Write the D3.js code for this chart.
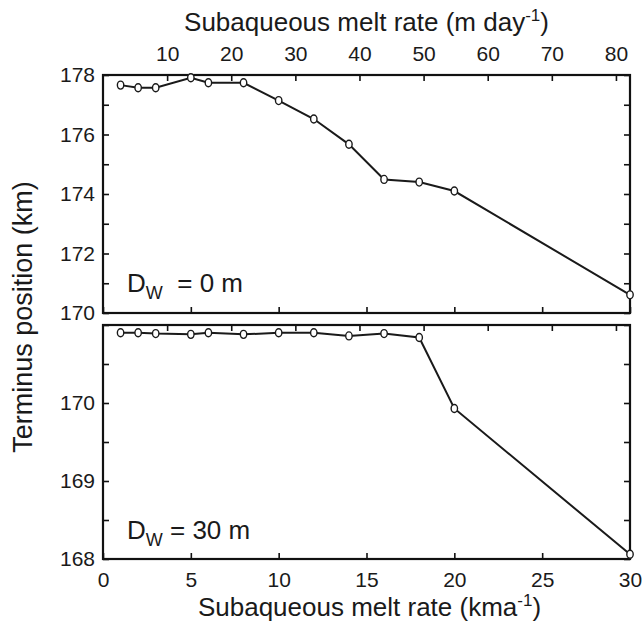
<!DOCTYPE html>
<html>
<head>
<meta charset="utf-8">
<script src="https://cdn.jsdelivr.net/npm/d3@7"></script>
<style>
  body { margin: 0; background: #fff; }
  svg { display: block; }
  text { font-family: "Liberation Sans", Arial, sans-serif; fill: #1a1a1a; }
</style>
</head>
<body>
<svg id="chart" width="643" height="631"></svg>
<script>
// ---- data ----
const meltRateTop = [1, 2, 3, 5, 6, 8, 10, 12, 14, 16, 18, 20, 30];          // km a^-1
const terminusTop = [177.66, 177.57, 177.57, 177.91, 177.74, 177.74, 177.14, 176.52, 175.67, 174.49, 174.40, 174.10, 170.61];
const meltRateBottom = [1, 2, 3, 5, 6, 8, 10, 12, 14, 16, 18, 20, 30];
const terminusBottom = [170.90, 170.90, 170.89, 170.88, 170.90, 170.88, 170.90, 170.90, 170.86, 170.89, 170.84, 169.93, 168.06];
const kmaTicks = [0, 5, 10, 15, 20, 25, 30];
const dayTicks = [10, 20, 30, 40, 50, 60, 70, 80];
const topYTicks = [170, 171, 172, 173, 174, 175, 176, 177, 178];
const topYLabels = [170, 172, 174, 176, 178];
const botYTicks = [168, 168.5, 169, 169.5, 170, 170.5, 171];
const botYLabels = [168, 169, 170];
const panelLabels = ["0 m", "30 m"];

// ---- layout ----
const L = 103, R = 630;
const topP = { y0: 75, y1: 313 };
const botP = { y0: 325, y1: 559 };
const svg = d3.select("#chart");

const xKma = d3.scaleLinear().domain([0, 30]).range([L, R]);
const xDay = d3.scaleLinear().domain([0, 30000 / 365]).range([L, R]);
const yTop = d3.scaleLinear().domain([170, 178]).range([topP.y1, topP.y0]);
const yBot = d3.scaleLinear().domain([168, 171]).range([botP.y1, botP.y0]);

const TICK = 6, FS = 21;

function styleAxis(g) {
  g.select(".domain").remove();
  g.selectAll(".tick line").attr("stroke", "#111").attr("stroke-width", 1.6);
  g.selectAll(".tick text").style("font-size", FS + "px").attr("fill", "#1a1a1a");
}

function panel(p, y, yTicks, yLabels, xs, ys, showTopLabels, showBottomLabels, label) {
  svg.append("g").attr("transform", `translate(0,${p.y0})`)
    .call(d3.axisTop(xDay).tickValues(dayTicks).tickSizeInner(-TICK).tickSizeOuter(0).tickPadding(14)
      .tickFormat(showTopLabels ? d3.format("d") : () => ""))
    .call(styleAxis);
  svg.append("g").attr("transform", `translate(0,${p.y1})`)
    .call(d3.axisBottom(xKma).tickValues(kmaTicks).tickSizeInner(-TICK).tickSizeOuter(0).tickPadding(13)
      .tickFormat(showBottomLabels ? d3.format("d") : () => ""))
    .call(styleAxis);
  svg.append("g").attr("transform", `translate(${L},0)`)
    .call(d3.axisLeft(y).tickValues(yTicks).tickSizeInner(-TICK).tickSizeOuter(0).tickPadding(8)
      .tickFormat(d => yLabels.includes(d) ? d3.format("d")(d) : ""))
    .call(styleAxis);
  svg.append("g").attr("transform", `translate(${R},0)`)
    .call(d3.axisRight(y).tickValues(yTicks).tickSizeInner(-TICK).tickSizeOuter(0).tickFormat(() => ""))
    .call(styleAxis);
  svg.append("rect").attr("x", L).attr("y", p.y0).attr("width", R - L).attr("height", p.y1 - p.y0)
    .attr("fill", "none").attr("stroke", "#111").attr("stroke-width", 2.2);

  const pts = xs.map((d, i) => [d, ys[i]]);
  svg.append("path").datum(pts)
    .attr("fill", "none").attr("stroke", "#1a1a1a").attr("stroke-width", 2)
    .attr("d", d3.line().x(d => xKma(d[0])).y(d => y(d[1])));
  svg.append("g").selectAll("ellipse").data(pts).join("ellipse")
    .attr("cx", d => xKma(d[0])).attr("cy", d => y(d[1]))
    .attr("rx", 3.2).attr("ry", 4)
    .attr("fill", "#fff").attr("stroke", "#1a1a1a").attr("stroke-width", 1.4);

  const t = svg.append("text").attr("x", L + 24).attr("y", label.y).style("font-size", "26px");
  t.append("tspan").text("D");
  t.append("tspan").attr("dy", 7).style("font-size", "18px").text("W");
  t.append("tspan").attr("dy", -7).text(label.text);
}

panel(topP, yTop, topYTicks, topYLabels, meltRateTop, terminusTop, true, false, { y: 292, text: "  = " + panelLabels[0] });
panel(botP, yBot, botYTicks, botYLabels, meltRateBottom, terminusBottom, false, true, { y: 539, text: " = " + panelLabels[1] });

svg.selectAll("text").attr("xml:space", "preserve").style("white-space", "pre");

// titles
const tt = svg.append("text").attr("x", (L + R) / 2).attr("y", 31).attr("text-anchor", "middle").style("font-size", "26px");
tt.append("tspan").text("Subaqueous melt rate (m day");
tt.append("tspan").attr("dy", -10).style("font-size", "17px").text("-1");
tt.append("tspan").attr("dy", 10).text(")");

const bt = svg.append("text").attr("x", (L + R) / 2 + 3).attr("y", 616).attr("text-anchor", "middle").style("font-size", "26px");
bt.append("tspan").text("Subaqueous melt rate (kma");
bt.append("tspan").attr("dy", -10).style("font-size", "17px").text("-1");
bt.append("tspan").attr("dy", 10).text(")");

svg.append("text").attr("transform", `translate(32,${(topP.y0 + botP.y1) / 2}) rotate(-90)`)
  .attr("text-anchor", "middle").style("font-size", "27px").text("Terminus position (km)");
</script>
</body>
</html>
